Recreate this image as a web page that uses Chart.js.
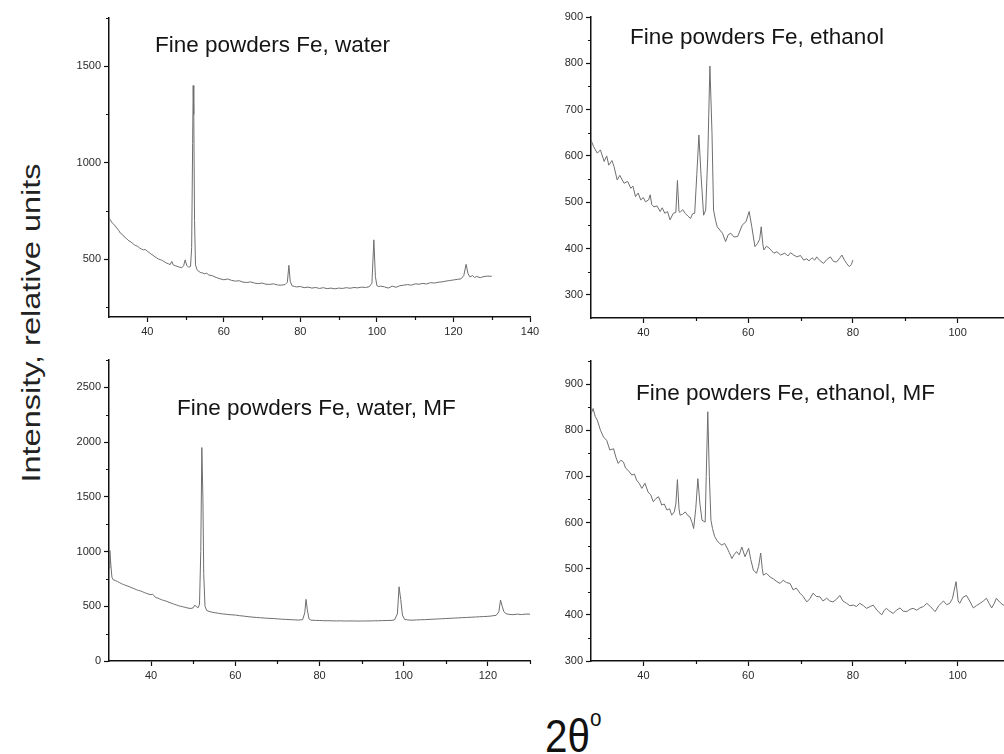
<!DOCTYPE html>
<html><head><meta charset="utf-8">
<script src="https://cdn.jsdelivr.net/npm/chart.js@4/dist/chart.umd.min.js"></script>
<style>
html,body{margin:0;padding:0;width:1004px;height:754px;overflow:hidden;background:#fff;font-family:"Liberation Sans",Arial,sans-serif;}
canvas{position:absolute;}
.t{position:absolute;font-size:22.5px;line-height:22.5px;color:#151515;white-space:nowrap;}
#ylab{position:absolute;left:31px;top:323px;font-size:25px;line-height:25px;color:#222;white-space:nowrap;transform:translate(-50%,-50%) rotate(-90deg) scaleX(1.3);}
#xlab{position:absolute;left:545px;top:712px;font-size:47px;line-height:47px;color:#111;white-space:nowrap;transform-origin:0 0;transform:scaleX(0.86);}
#xlab sup{font-size:24px;position:relative;top:-6px;vertical-align:top;line-height:24px;}
</style></head><body>
<canvas id="c1"></canvas><canvas id="c2"></canvas><canvas id="c3"></canvas><canvas id="c4"></canvas>
<div class="t" style="left:155px;top:34px">Fine powders Fe, water</div>
<div class="t" style="left:630px;top:26px">Fine powders Fe, ethanol</div>
<div class="t" style="left:177px;top:397px">Fine powders Fe, water, MF</div>
<div class="t" style="left:636px;top:382px">Fine powders Fe, ethanol, MF</div>
<div id="ylab">Intensity, relative units</div>
<div id="xlab">2θ<sup>o</sup></div>
<script>
// ---- data (2θ, intensity) ----
const waterPoints = [[30,715],[30.5,698],[31,684],[31.5,676],[32,662],[32.5,650],[33,634],[33.5,628],[34,615],[34.5,608],[35,598],[35.5,592],[36,585],[36.5,576],[37,570],[37.5,566],[38,558],[38.5,552],[39,548],[39.5,550],[40,541],[40.5,534],[41,526],[41.5,520],[42,512],[42.5,506],[43,500],[43.5,497],[44,492],[44.5,486],[45,480],[45.5,476],[46,472],[46.4,488],[46.8,470],[47.3,466],[48,461],[48.5,458],[49,455],[49.5,466],[49.9,496],[50.3,468],[50.8,458],[51.3,462],[51.6,560],[51.85,1100],[52.0,1400],[52.15,1250],[52.35,700],[52.6,470],[53,445],[53.5,436],[54,430],[54.5,428],[55,424],[55.5,428],[56,418],[57,414],[58,405],[59,398],[60,393],[61,397],[62,390],[63,386],[64,388],[65,381],[66,379],[67,382],[68,376],[69,373],[70,376],[71,370],[72,369],[73,372],[74,366],[75,365],[76,368],[76.6,380],[77.0,468],[77.35,385],[77.8,362],[78.5,358],[79,356],[80,358],[81,352],[82,355],[83,350],[84,353],[85,348],[86,352],[87,347],[88,350],[89,346],[90,350],[91,348],[92,352],[93,349],[94,353],[95,351],[96,355],[97,353],[98,357],[98.7,375],[99.2,600],[99.6,410],[100,362],[100.5,358],[101,360],[102,356],[103,350],[104,360],[105,354],[106,362],[107,365],[108,368],[109,365],[110,372],[111,370],[112,374],[113,371],[114,378],[115,376],[116,380],[117,382],[118,386],[119,389],[120,392],[121,395],[122,398],[122.7,415],[123.3,473],[123.8,425],[124.3,408],[125,415],[125.5,405],[126,410],[127,404],[128,410],[129,412],[130,411]];

const ethanolPoints = [[30.0,634],[30.5,620],[31.2,606],[31.8,613],[32.5,588],[33.0,600],[33.4,580],[34.0,590],[34.4,577],[35.0,548],[35.5,558],[36.3,541],[37.0,545],[37.6,530],[38.0,535],[38.5,512],[39.0,520],[39.5,505],[40.0,510],[40.4,501],[41.0,505],[41.3,516],[41.6,495],[42.0,490],[42.6,492],[43.2,480],[43.6,488],[44.1,476],[44.6,480],[45.1,462],[45.7,476],[46.2,478],[46.5,547],[46.8,480],[47.0,478],[47.5,484],[48.0,476],[48.5,470],[49.0,465],[49.4,475],[49.8,476],[50.2,560],[50.6,645],[51.0,560],[51.5,472],[51.9,483],[52.3,600],[52.7,794],[53.1,650],[53.4,483],[53.8,460],[54.1,447],[54.6,440],[55.1,433],[55.7,415],[56.2,430],[56.7,433],[57.3,425],[58.0,426],[58.5,440],[58.9,451],[59.6,458],[60.2,480],[60.7,447],[61.3,404],[61.8,411],[62.2,420],[62.5,447],[62.8,410],[63.0,397],[63.5,405],[64.0,401],[64.5,395],[64.9,390],[65.5,393],[66.2,386],[67.0,390],[67.6,384],[68.1,391],[68.7,386],[69.3,382],[70.0,385],[70.6,375],[71.2,378],[71.6,373],[72.2,380],[72.7,375],[73.1,382],[73.7,374],[74.4,368],[75.0,376],[75.7,382],[76.3,372],[76.9,371],[77.4,378],[77.9,386],[78.4,375],[78.8,368],[79.3,361],[79.7,365],[80.0,375]];

const waterMFPoints = [[30,850],[30.2,1010],[30.45,870],[30.7,765],[31,742],[31.5,735],[32,726],[32.5,716],[33,706],[33.5,698],[34,690],[34.5,684],[35,676],[35.5,668],[36,660],[36.5,652],[37,645],[37.5,640],[38,632],[38.5,624],[39,616],[39.5,610],[40,606],[40.3,612],[40.7,596],[41,582],[41.5,576],[42,568],[42.5,560],[43,553],[43.5,548],[44,540],[44.5,532],[45,526],[45.5,518],[46,512],[46.5,506],[47,500],[47.5,496],[48,491],[48.5,486],[49,482],[49.5,480],[50,486],[50.4,510],[50.8,494],[51.2,488],[51.5,520],[51.8,1000],[52.05,1950],[52.3,1500],[52.5,800],[52.8,500],[53.2,462],[54,450],[55,442],[56,436],[57,430],[58,426],[59,422],[60,420],[61,414],[62,410],[63,405],[64,401],[65,398],[66,395],[67,392],[68,390],[69,388],[70,385],[71,382],[72,380],[73,378],[74,376],[75,374],[76,378],[76.5,440],[76.8,563],[77.1,470],[77.5,385],[78,373],[79,371],[80,370],[81,368],[82,368],[83,367],[84,366],[85,367],[86,365],[87,366],[88,366],[89,365],[90,365],[91,366],[92,366],[93,367],[94,368],[95,369],[96,370],[97,371],[97.8,375],[98.5,430],[98.9,678],[99.3,560],[99.7,420],[100.2,380],[101,375],[102,373],[103,375],[104,377],[105,378],[106,380],[107,382],[108,384],[109,386],[110,388],[111,390],[112,392],[113,394],[114,396],[115,398],[116,400],[117,402],[118,404],[119,406],[120,408],[121,412],[122,418],[122.6,450],[123.0,557],[123.4,500],[123.8,450],[124.3,432],[125,426],[126,423],[127,428],[128,424],[129,429],[130,428]];

const ethanolMFPoints = [[30.0,835],[30.4,847],[30.8,830],[31.2,822],[31.8,800],[32.4,785],[33.0,778],[33.6,757],[34.3,760],[34.8,740],[35.2,728],[35.7,735],[36.2,731],[36.6,718],[37.1,713],[37.8,703],[38.3,705],[38.7,692],[39.2,685],[39.7,674],[40.3,685],[40.9,666],[41.4,660],[41.9,645],[42.4,652],[42.9,656],[43.5,638],[44.0,640],[44.5,627],[45.0,630],[45.4,616],[45.9,623],[46.2,640],[46.5,693],[46.8,630],[47.0,616],[47.5,618],[48.0,623],[48.5,615],[48.9,612],[49.3,600],[49.6,587],[50.0,630],[50.4,695],[50.8,640],[51.2,605],[51.8,601],[52.0,700],[52.3,840],[52.6,700],[52.9,605],[53.2,587],[53.6,570],[54.0,562],[54.5,555],[55.0,551],[55.5,555],[55.9,547],[56.4,535],[56.9,522],[57.3,530],[57.8,537],[58.3,530],[58.8,547],[59.4,526],[60.1,544],[60.5,520],[61.0,497],[61.6,490],[62.0,505],[62.4,534],[62.7,500],[62.9,486],[63.5,490],[64.2,482],[64.8,478],[65.5,472],[66.1,468],[66.7,475],[67.3,470],[68.0,468],[68.6,454],[69.2,458],[69.9,447],[70.5,440],[71.2,428],[71.8,435],[72.4,447],[73.0,440],[73.7,439],[74.3,430],[75.0,436],[75.6,430],[76.2,428],[76.9,434],[77.5,442],[78.1,430],[78.8,425],[79.4,420],[80.1,421],[80.7,418],[81.3,425],[82.0,420],[82.6,414],[83.3,418],[83.9,421],[84.6,410],[85.5,400],[86.0,410],[86.4,414],[87.0,408],[87.7,403],[88.3,410],[89.0,415],[89.6,408],[90.3,407],[90.9,412],[91.5,414],[92.2,410],[92.8,415],[93.5,418],[94.1,425],[94.8,418],[95.7,407],[96.4,420],[97.3,430],[97.9,422],[98.5,425],[99.0,435],[99.7,472],[100.1,430],[100.4,425],[101.0,438],[101.7,442],[102.3,430],[103.0,415],[103.6,420],[104.3,425],[104.9,430],[105.5,436],[106.0,425],[106.5,415],[107.0,425],[107.4,436],[108.0,428],[108.7,421],[109.3,425]];

// ---- tick labels ----
const waterXTicks = [40,60,80,100,120,140];
const waterXMinor = [50,70,90,110,130];
const waterYTicks = [500,1000,1500];
const waterYMinor = [250,750,1250,1750];

const ethanolXTicks = [40,60,80,100];
const ethanolXMinor = [50,70,90,110];
const ethanolYTicks = [300,400,500,600,700,800,900];
const ethanolYMinor = [350,450,550,650,750,850];

const waterMFXTicks = [40,60,80,100,120];
const waterMFXMinor = [50,70,90,110,130];
const waterMFYTicks = [0,500,1000,1500,2000,2500];
const waterMFYMinor = [250,750,1250,1750,2250,2750];

const ethanolMFXTicks = [40,60,80,100];
const ethanolMFXMinor = [50,70,90,110];
const ethanolMFYTicks = [300,400,500,600,700,800,900];
const ethanolMFYMinor = [350,450,550,650,750,850,950];

Chart.defaults.font.family = '"Liberation Sans", Arial, sans-serif';
Chart.defaults.font.size = 11;
Chart.defaults.color = '#2a2a2a';

const minorPlugin = {
  id: 'minorTicks',
  afterDraw(chart, args, opts) {
    const ctx = chart.ctx, xs = chart.scales.x, ys = chart.scales.y, a = chart.chartArea;
    ctx.save();
    ctx.strokeStyle = '#111'; ctx.lineWidth = 1.2;
    ctx.beginPath();
    (opts.x || []).forEach(v => { if (v < xs.min || v > xs.max) return; const p = Math.round(xs.getPixelForValue(v)) + 0.5; ctx.moveTo(p, a.bottom); ctx.lineTo(p, a.bottom + 3); });
    (opts.y || []).forEach(v => { if (v < ys.min || v > ys.max) return; const p = Math.round(ys.getPixelForValue(v)) + 0.5; ctx.moveTo(a.left - 3, p); ctx.lineTo(a.left, p); });
    ctx.stroke();
    ctx.restore();
  }
};

function makePanel(id, box, pts, xr, yr, xt, yt, xm, ym) {
  const PAD_T = 10, PAD_R = 24, YW = 60, XH = 30;
  const c = document.getElementById(id);
  c.width = YW + (box.r - box.l) + PAD_R;
  c.height = PAD_T + (box.b - box.t) + XH;
  c.style.left = (box.l - YW) + 'px';
  c.style.top = (box.t - PAD_T) + 'px';
  const axisCommon = {
    type: 'linear',
    grid: { drawOnChartArea: false, drawTicks: true, tickLength: 5, color: '#111', tickWidth: 1.2 },
    border: { display: true, color: '#111', width: 1.5 },
  };
  new Chart(c, {
    type: 'line',
    data: { datasets: [{ data: pts.map(p => ({ x: p[0], y: p[1] })), borderColor: '#6e6e6e', borderWidth: 1, pointRadius: 0, tension: 0, fill: false }] },
    options: {
      responsive: false, animation: false, events: [],
      layout: { padding: { top: PAD_T, right: PAD_R, left: 0, bottom: 0 } },
      plugins: { legend: { display: false }, tooltip: { enabled: false }, minorTicks: { x: xm, y: ym } },
      scales: {
        x: Object.assign({}, axisCommon, {
          min: xr[0], max: xr[1],
          afterBuildTicks: s => { s.ticks = xt.map(v => ({ value: v })); },
          afterFit: s => { s.height = XH; },
          ticks: { padding: 3, maxRotation: 0, autoSkip: false, callback: v => String(v) }
        }),
        y: Object.assign({}, axisCommon, {
          min: yr[0], max: yr[1],
          afterBuildTicks: s => { s.ticks = yt.map(v => ({ value: v })); },
          afterFit: s => { s.width = YW; },
          ticks: { padding: 3, autoSkip: false, callback: v => String(v) }
        })
      }
    },
    plugins: [minorPlugin]
  });
}

makePanel('c1', { l: 109, r: 530, t: 18, b: 317 }, waterPoints, [30, 140], [200, 1750], waterXTicks, waterYTicks, waterXMinor, waterYMinor);
makePanel('c2', { l: 591, r: 1010, t: 17, b: 318 }, ethanolPoints, [30, 110], [250, 900], ethanolXTicks, ethanolYTicks, ethanolXMinor, ethanolYMinor);
makePanel('c3', { l: 109, r: 530, t: 360, b: 661 }, waterMFPoints, [30, 130], [0, 2750], waterMFXTicks, waterMFYTicks, waterMFXMinor, waterMFYMinor);
makePanel('c4', { l: 591, r: 1010, t: 361, b: 661 }, ethanolMFPoints, [30, 110], [300, 950], ethanolMFXTicks, ethanolMFYTicks, ethanolMFXMinor, ethanolMFYMinor);
</script>
</body></html>
